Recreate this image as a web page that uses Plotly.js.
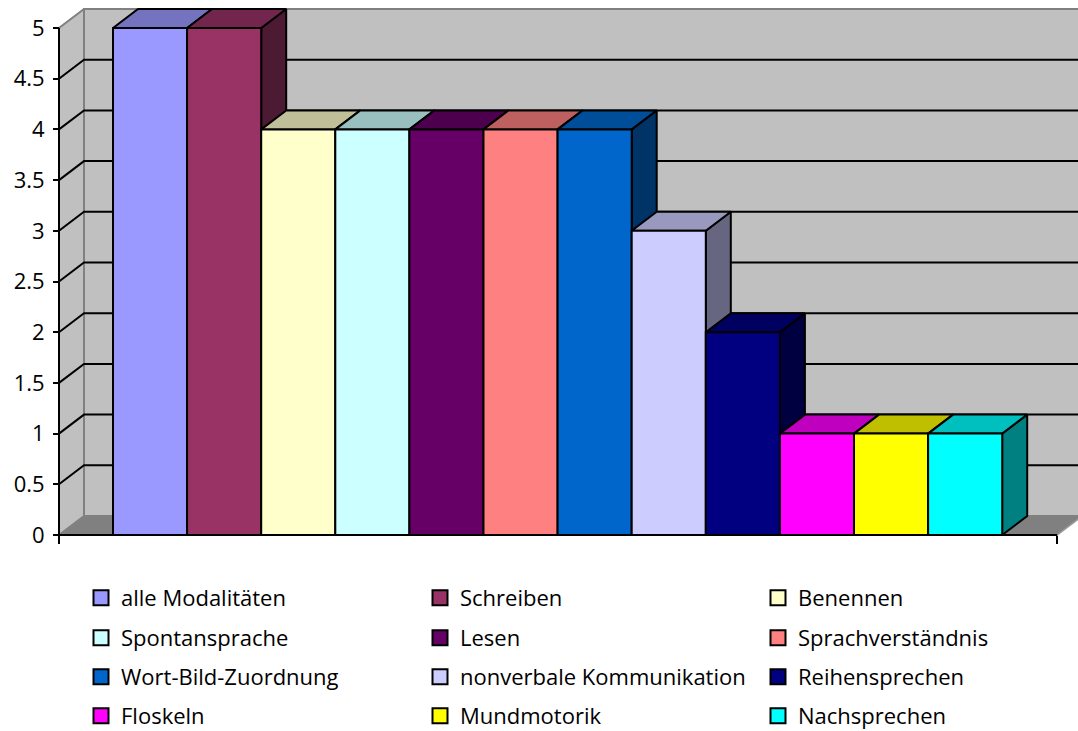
<!DOCTYPE html>
<html>
<head>
<meta charset="utf-8">
<script src="https://cdn.plot.ly/plotly-3.0.1.min.js"></script>
<style>
  html, body { margin: 0; padding: 0; background: #ffffff; }
  #chart { width: 1078px; height: 731px; }
</style>
</head>
<body>
<div id="chart"></div>
<script>
// ---- data ----
const categories = [
  'alle Modalitäten', 'Schreiben', 'Benennen',
  'Spontansprache', 'Lesen', 'Sprachverständnis',
  'Wort-Bild-Zuordnung', 'nonverbale Kommunikation', 'Reihensprechen',
  'Floskeln', 'Mundmotorik', 'Nachsprechen'
];
const values = [5, 5, 4, 4, 4, 4, 4, 3, 2, 1, 1, 1];
const colors = [
  '#9999FF', '#993366', '#FFFFCC',
  '#CCFFFF', '#660066', '#FF8080',
  '#0066CC', '#CCCCFF', '#000080',
  '#FF00FF', '#FFFF00', '#00FFFF'
];
const yTicks = [0, 0.5, 1, 1.5, 2, 2.5, 3, 3.5, 4, 4.5, 5];
const yTickLabels = ['0', '0.5', '1', '1.5', '2', '2.5', '3', '3.5', '4', '4.5', '5'];

// ---- geometry of the pseudo-3D box (pixels) ----
const W = 1078, H = 731;
const M = { l: 45, r: 0, t: 5, b: 186, autoexpand: false };
const plotW = W - M.l - M.r;
const plotH = H - M.t - M.b;
const PX_PER_COLUMN = 74.1;   // width of one column
const PX_PER_UNIT = 101.4;    // height of one value unit
const AXIS_INSET_PX = 14;     // front value axis inside the plot area
const FLOOR_INSET_PX = 10;    // front floor edge above the plot bottom
const GAP_LEFT_PX = 54, GAP_RIGHT_PX = 55;
const DEPTH_X_PX = 25, DEPTH_Y_PX = 19;

const xMin = -0.5 - (AXIS_INSET_PX + GAP_LEFT_PX) / PX_PER_COLUMN;
const xMax = xMin + plotW / PX_PER_COLUMN;
const yMin = -FLOOR_INSET_PX / PX_PER_UNIT;
const yMax = yMin + plotH / PX_PER_UNIT;
const xFrontLeft = -0.5 - GAP_LEFT_PX / PX_PER_COLUMN;
const xFrontRight = values.length - 0.5 + GAP_RIGHT_PX / PX_PER_COLUMN;
const DX = DEPTH_X_PX / PX_PER_COLUMN;
const DY = DEPTH_Y_PX / PX_PER_UNIT;
const yTop = yTicks[yTicks.length - 1];
const xFar = xMax + 1;

function shade(hex, f) {
  const n = parseInt(hex.slice(1), 16);
  const r = Math.round(((n >> 16) & 255) * f);
  const g = Math.round(((n >> 8) & 255) * f);
  const b = Math.round((n & 255) * f);
  return `rgb(${r},${g},${b})`;
}

function poly(pts, fill, lineColor, lineWidth) {
  return {
    type: 'scatter', mode: 'lines',
    x: pts.map(p => p[0]).concat([pts[0][0]]),
    y: pts.map(p => p[1]).concat([pts[0][1]]),
    fill: 'toself', fillcolor: fill,
    line: { color: lineColor, width: lineWidth, shape: 'linear' },
    hoverinfo: 'skip', showlegend: false
  };
}

function path(xs, ys, color, width) {
  return {
    type: 'scatter', mode: 'lines', x: xs, y: ys,
    line: { color: color, width: width },
    hoverinfo: 'skip', showlegend: false, connectgaps: false
  };
}

const traces = [];

// floor
traces.push(poly([[xFrontLeft, 0], [xFrontRight, 0], [xFrontRight + DX, DY], [xFrontLeft + DX, DY]],
  '#808080', '#9a9a9a', 1.5));
// side wall
traces.push(poly([[xFrontLeft, 0], [xFrontLeft, yTop], [xFrontLeft + DX, yTop + DY], [xFrontLeft + DX, DY]],
  '#c0c0c0', '#808080', 2));
// back wall
traces.push(poly([[xFrontLeft + DX, DY], [xFar, DY], [xFar, yTop + DY], [xFrontLeft + DX, yTop + DY]],
  '#c0c0c0', '#808080', 2));

// grid lines: across the side wall, then along the back wall
const gx = [], gy = [];
yTicks.filter(t => t > 0 && t < yTop).forEach(t => {
  gx.push(xFrontLeft, xFrontLeft + DX, xFar, null);
  gy.push(t, t + DY, t + DY, null);
});
traces.push(path(gx, gy, '#000000', 2));

// columns: side, top, front — left to right so nearer faces cover
values.forEach((v, i) => {
  const x0 = i - 0.5, x1 = i + 0.5;
  traces.push(poly([[x1, 0], [x1 + DX, DY], [x1 + DX, v + DY], [x1, v]], shade(colors[i], 0.5), '#000000', 2));
  traces.push(poly([[x0, v], [x1, v], [x1 + DX, v + DY], [x0 + DX, v + DY]], shade(colors[i], 0.75), '#000000', 2));
  traces.push(poly([[x0, 0], [x1, 0], [x1, v], [x0, v]], colors[i], '#000000', 2));
});

// front edges of the box
traces.push(path([xFrontLeft, xFrontLeft], [0, yTop], '#000000', 2));
traces.push(path([xFrontLeft, xFrontRight], [0, 0], '#000000', 2));

// legend entries: three per row, four rows
const legendIds = ['legend', 'legend2', 'legend3', 'legend4'];
const entryWidths = [294, 293, 215];
categories.forEach((name, i) => {
  traces.push({
    type: 'scatter', mode: 'markers', x: [null], y: [null],
    name: name,
    marker: { symbol: 'square', size: 15, color: colors[i], line: { color: '#000000', width: 2 } },
    legend: legendIds[Math.floor(i / 3)],
    legendwidth: entryWidths[i % 3],
    hoverinfo: 'skip'
  });
});

const font = { family: '"Open Sans", "Noto Sans", sans-serif', size: 22, color: '#000000' };
const LEGEND_LEFT_PX = 81;
const ROW_CENTERS_PX = [598, 638, 677, 716];

const layout = {
  width: W, height: H,
  margin: M,
  paper_bgcolor: '#ffffff', plot_bgcolor: 'rgba(0,0,0,0)',
  showlegend: true,
  hovermode: false,
  font: font,
  xaxis: {
    range: [xMin, xMax], showgrid: false, zeroline: false, showline: false,
    tickmode: 'array', tickvals: [xFrontLeft, xFrontRight], showticklabels: false,
    ticks: 'outside', ticklen: 8, tickwidth: 2, tickcolor: '#000000',
    anchor: 'free', position: FLOOR_INSET_PX / plotH, fixedrange: true
  },
  yaxis: {
    range: [yMin, yMax], showgrid: false, zeroline: false, showline: false,
    tickmode: 'array', tickvals: yTicks, ticktext: yTickLabels,
    ticks: 'outside', ticklen: 6, tickwidth: 2, tickcolor: '#000000',
    ticklabelstandoff: 4,
    tickfont: font,
    anchor: 'free', position: AXIS_INSET_PX / plotW, fixedrange: true
  }
};
legendIds.forEach((id, r) => {
  layout[id] = {
    orientation: 'h',
    x: (LEGEND_LEFT_PX - M.l) / plotW, xanchor: 'left',
    y: (M.t + plotH - ROW_CENTERS_PX[r]) / plotH, yanchor: 'middle',
    font: font, bgcolor: 'rgba(0,0,0,0)', borderwidth: 0,
    itemclick: false, itemdoubleclick: false
  };
});

Plotly.newPlot('chart', traces, layout, { staticPlot: true, displayModeBar: false });
</script>
</body>
</html>
